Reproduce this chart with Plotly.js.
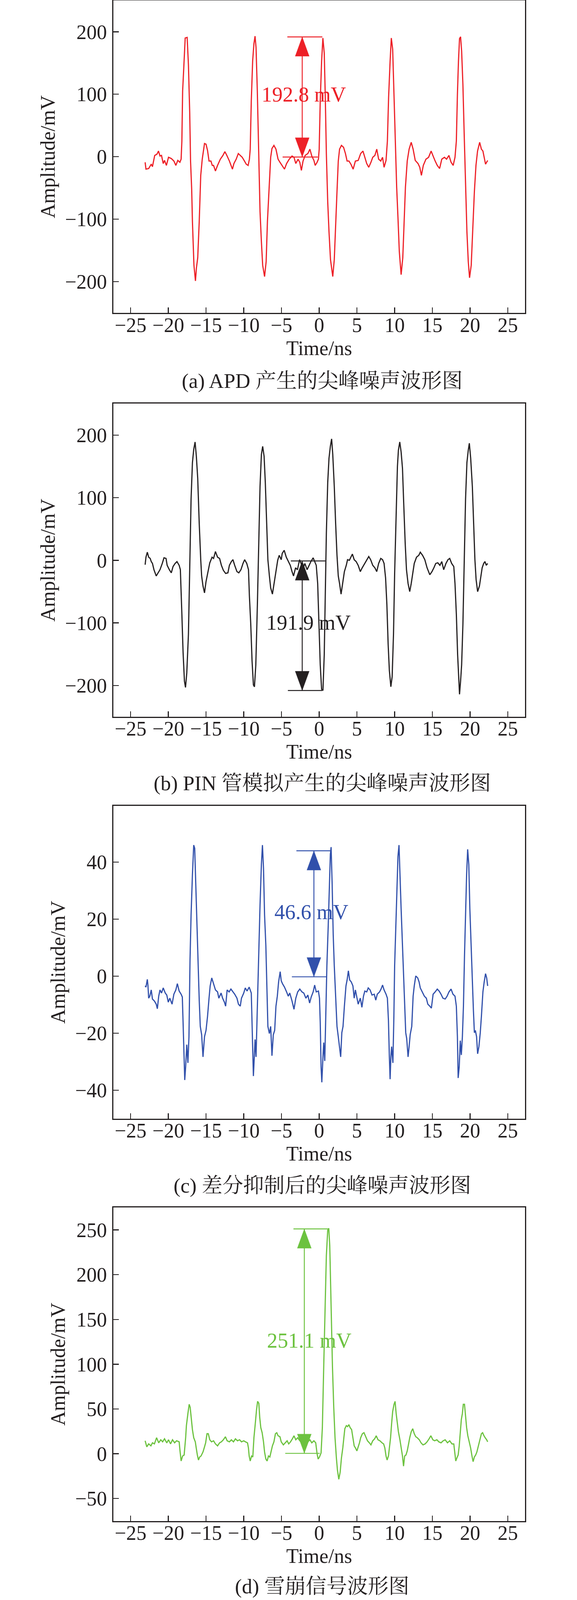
<!DOCTYPE html>
<html>
<head>
<meta charset="utf-8">
<script src="https://cdn.plot.ly/plotly-3.0.1.min.js"></script>
<style>
    html, body { margin: 0; padding: 0; background: #ffffff; overflow: hidden; }
</style>
</head>
<body>
<div id="chart"></div>
<script>
// (a) APD spike noise: time in ns, amplitude in mV
const apdTime = [
    -23.07,-22.96,-22.6,-22.26,-22.1,-21.8,-21.5,-21.3,-21.1,-20.9,-20.67,-20.5,-20.25,-19.97,-19.6,-19.26,-19.0,-18.74,-18.46,-18.3,
    -18.2,-18.1,-17.97,-17.76,-17.5,-17.33,-17.16,-17.05,-16.9,-16.8,-16.6,-16.4,-16.27,-16.1,-15.9,-15.7,-15.5,-15.2,-15.0,-14.8,
    -14.6,-14.35,-14.17,-14.0,-13.75,-13.47,-13.1,-12.76,-12.5,-12.24,-11.9,-11.5,-11.3,-11.0,-10.72,-10.48,-10.2,-9.95,-9.67,-9.42,-9.25,
    -9.14,-9.0,-8.82,-8.65,-8.5,-8.37,-8.2,-8.0,-7.84,-7.66,-7.49,-7.24,-7.03,-6.86,-6.6,-6.43,-6.26,-6.0,-5.73,-5.45,
    -5.2,-4.85,-4.6,-4.32,-3.97,-3.6,-3.34,-3.1,-2.8,-2.57,-2.36,-2.14,-1.86,-1.5,-1.23,-0.98,-0.7,-0.53,-0.28,-0.1,
    0,0.14,0.32,0.49,0.67,0.81,0.95,1.13,1.3,1.5,1.8,2.0,2.18,2.36,2.53,2.7,2.95,3.23,3.48,3.7,
    3.94,4.2,4.5,4.8,5.17,5.5,5.8,6.05,6.3,6.57,6.86,7.1,7.38,7.63,7.88,8.16,8.4,8.6,8.86,
    9.04,9.2,9.4,9.56,9.74,9.9,10.1,10.27,10.44,10.62,10.86,11.08,11.26,11.43,11.67,11.92,12.2,12.45,12.73,13.1,
    13.33,13.55,13.8,14.15,14.5,14.84,15.1,15.37,15.65,15.96,16.25,16.6,16.88,17.2,17.48,17.76,18.0,
    18.18,18.32,18.46,18.6,18.74,18.88,19.05,19.23,19.4,19.58,19.76,19.93,20.15,20.36,20.57,20.78,20.99,21.27,21.5,21.7,
    21.9,22.05,22.33
];
const apdAmp = [
    -9,-20,-19,-12,-16,2,4,9,1,2,-11,-6,-14,-1,-3,-7,-14,-6,-9,-4,
    25,105,137,190,191,147,70,-7,-52,-104,-174,-199,-178,-162,-104,-30,-4,21,20,10,
    -7,-7,-14,-14,-23,-14,-4,2,8,2,-7,-20,-11,-4,5,2,-1,-6,-12,-14,-4,
    12,89,153,181,193,175,105,-7,-88,-136,-174,-192,-168,-104,-40,-1,13,18,12,-4,
    -9,-15,-20,-11,-4,1,-1,-11,-4,-9,-22,-7,2,5,12,1,-6,-14,-9,-4,
    12,89,153,190,166,95,5,-72,-120,-165,-192,-165,-104,-56,-7,12,18,15,5,-7,
    -7,-12,-20,-7,-6,5,9,-1,-11,-17,-9,-1,2,12,-4,-7,-1,-17,-6,
    25,95,153,190,172,105,25,-49,-97,-152,-189,-162,-104,-49,-7,12,23,12,-6,-11,
    -17,-30,-14,-4,-1,9,1,-7,-14,-19,-4,-1,-4,2,-9,-14,-1,
    25,99,153,189,192,169,115,31,-49,-120,-168,-194,-174,-110,-56,-14,9,23,12,9,
    -4,-12,-6
];

// (b) PIN-simulated spike noise
const pinTime = [
    -23.07,-22.96,-22.78,-22.6,-22.4,-22.26,-22.1,-21.9,-21.6,-21.36,-21.1,-20.8,-20.57,-20.3,-20.15,-19.86,-19.6,-19.37,-19.1,-18.85,-18.56,-18.4,
    -18.3,-18.2,-18.04,-17.86,-17.72,-17.55,-17.33,-17.16,-16.98,-16.8,-16.63,-16.45,-16.28,-16.1,-15.9,-15.7,-15.58,-15.4,-15.2,-15.0,
    -14.8,-14.5,-14.2,-14.0,-13.75,-13.47,-13.2,-12.96,-12.7,-12.4,-12.1,-11.9,-11.64,-11.43,-11.2,-10.9,-10.65,-10.37,-10.1,-9.88,-9.6,-9.37,
    -9.25,-9.07,-8.9,-8.72,-8.58,-8.4,-8.19,-8.0,-7.84,-7.66,-7.49,-7.3,-7.14,-6.96,-6.8,-6.6,-6.43,-6.2,-5.98,-5.73,
    -5.5,-5.3,-5.03,-4.9,-4.64,-4.36,-4.08,-3.83,-3.6,-3.4,-3.13,-2.88,-2.6,-2.4,-2.2,-1.9,-1.6,-1.34,-1.1,-0.8,-0.6,-0.39,
    -0.2,-0.04,0.14,0.32,0.5,0.67,0.81,0.95,1.13,1.3,1.48,1.65,1.8,2.0,2.18,2.36,2.53,2.7,2.9,3.13,
    3.34,3.59,3.76,4.0,4.2,4.4,4.64,4.9,5.17,5.45,5.7,6.05,6.3,6.57,6.82,7.1,7.38,7.63,7.88,8.16,8.4,8.6,
    8.8,8.97,9.14,9.3,9.5,9.67,9.85,10.0,10.2,10.37,10.5,10.68,10.86,11.04,11.2,11.4,11.57,11.78,12.0,12.2,
    12.4,12.6,12.9,13.2,13.4,13.7,14.0,14.3,14.66,14.95,15.2,15.45,15.72,16.0,16.25,16.5,16.8,17.07,17.3,17.56,17.84,
    18.0,18.18,18.35,18.53,18.6,18.74,18.88,19.05,19.23,19.4,19.58,19.76,19.9,20.08,20.3,20.47,20.64,20.8,21.0,21.24,
    21.45,21.6,21.8,21.97,22.15,22.33
];
const pinAmp = [
    -7,5,13,5,3,-2,-5,-15,-25,-20,-15,-5,4,3,-8,-15,-20,-10,-5,-2,-8,-15,
    -57,-86,-147,-193,-203,-180,-118,-5,98,156,177,189,166,131,59,1,-25,-41,-52,-34,
    -21,-4,5,3,14,5,3,-8,-16,-21,-20,-8,-2,1,-8,-18,-20,-15,-5,1,-5,-15,
    -57,-102,-160,-199,-202,-167,-70,27,118,169,182,166,124,59,1,-25,-44,-54,-37,-15,
    0,8,1,11,16,5,-2,-8,-18,-25,-12,-15,1,-5,-15,-5,-15,-8,-2,4,-2,-8,
    -37,-102,-167,-206,-207,-151,-54,43,124,163,182,194,169,118,59,8,-25,-37,-54,-34,
    -18,-8,1,0,5,10,1,-2,-8,-18,-12,-5,0,6,1,-8,-12,-18,-5,3,1,-5,
    -28,-70,-134,-176,-202,-186,-118,-21,72,150,176,189,173,147,92,27,-15,-37,-50,-37,
    -21,-5,5,8,13,8,1,-12,-23,-18,-12,-5,-4,-8,-2,-15,-5,1,3,-5,-10,
    -37,-86,-151,-196,-214,-193,-167,-102,11,98,156,176,187,163,118,59,1,-31,-50,-41,
    -25,-12,-5,-2,-8,-5
];

// (c) spike noise after differential suppression
const diffTime = [
    -23.07,-22.96,-22.78,-22.7,-22.6,-22.45,-22.26,-22.1,-21.84,-21.6,-21.45,-21.27,-21.1,-20.9,-20.67,-20.4,-20.2,-20.0,-19.8,-19.5,
    -19.26,-19.0,-18.8,-18.56,-18.3,-18.14,
    -18.04,-17.93,-17.82,-17.7,-17.55,-17.4,-17.26,-17.12,-16.98,-16.8,-16.63,-16.5,-16.36,-16.2,-16.05,-15.9,-15.76,-15.58,-15.4,-15.2,
    -15.0,-14.8,-14.6,-14.45,-14.24,-14.0,-13.75,-13.47,-13.3,-13.0,-12.8,-12.56,-12.4,-12.2,-11.94,-11.7,-11.4,-11.2,-10.9,-10.7,
    -10.46,-10.3,-10.0,-9.8,-9.56,-9.28,-9.0,
    -8.93,-8.8,-8.72,-8.6,-8.5,-8.37,-8.19,-8.0,-7.84,-7.66,-7.52,-7.38,-7.24,-7.07,-6.93,-6.8,-6.6,-6.43,-6.26,-6.08,
    -5.9,-5.73,-5.55,-5.38,-5.17,-5.03,-4.85,-4.6,-4.32,-4.1,-3.9,-3.6,-3.34,-3.1,-2.85,-2.57,-2.28,-2.04,-1.76,-1.5,
    -1.27,-1.06,-0.8,-0.6,-0.39,-0.1,0.04,
    0.14,0.25,0.35,0.5,0.6,0.74,0.88,1.02,1.2,1.34,1.48,1.58,1.72,1.86,2.0,2.18,2.36,2.53,2.7,2.85,
    3.0,3.16,3.34,3.55,3.7,3.87,4.04,4.25,4.47,4.64,4.8,5.0,5.17,5.45,5.66,5.87,6.05,6.3,6.5,6.75,
    7.0,7.3,7.5,7.7,8.0,8.2,8.4,8.6,8.86,9.04,
    9.18,9.3,9.4,9.5,9.6,9.77,9.9,10.0,10.16,10.3,10.44,10.58,10.72,10.86,11.04,11.2,11.33,11.47,11.6,11.78,
    11.92,12.06,12.27,12.45,12.6,12.8,13.06,13.24,13.4,13.67,13.94,14.2,14.4,14.66,14.87,15.1,15.37,15.65,15.9,16.15,
    16.4,16.7,16.95,17.2,17.48,17.73,18.0,
    18.18,18.32,18.42,18.56,18.7,18.84,18.98,19.12,19.26,19.4,19.54,19.68,19.83,19.97,20.15,20.3,20.44,20.57,20.7,20.86,
    21.0,21.17,21.35,21.5,21.7,21.87,22.05,22.2,22.33
];
const diffAmp = [
    -3.4,-3.8,-1.1,-3.1,-7.7,-7,-4.8,-8,-8.7,-9.8,-11.4,-7,-4.8,-5.9,-4.1,-5.9,-6.6,-9.1,-7.7,-9.8,
    -6.3,-4.8,-2.6,-5.2,-6.3,-7.3,
    -16.2,-27.6,-36.4,-31.8,-24,-30.4,-21.2,5.8,21.5,35.7,46,44.9,32.1,17.9,3.7,-8.4,-17.6,-20.5,-28.3,-21.2,
    -19,-14.1,-7.7,-3.4,-0.6,-2.7,-4.8,-5.5,-7.7,-5.9,-7.7,-9.1,-10.5,-4.8,-5.5,-4.5,-5.5,-6.3,-7.7,-9.8,
    -10.5,-7.7,-5.9,-4.1,-5.2,-3.8,-5.9,
    -14.1,-28.3,-35,-28.3,-22.2,-28.3,-10.5,10.8,25,39.2,46,37.8,21.5,10.8,-3.4,-17.6,-20.1,-17.6,-27.9,-20.5,
    -19,-10.5,-7,-2,1.6,-1.6,-2.7,-3.8,-5.5,-7,-5.9,-8.7,-11.6,-7.7,-5.5,-4.5,-5.5,-5.9,-7.7,-6.6,
    -9.4,-7.3,-5.5,-3.1,-5.5,-5.2,-7.7,
    -16.2,-31.8,-37.2,-28.3,-23.3,-29.7,-10.5,3.7,17.9,32.1,42.8,45.3,32.1,14.4,3.7,-7,-17.6,-21.2,-24.7,-28.3,
    -19.8,-17.6,-10.5,-3.4,-1.3,1.9,-1.3,-2,-3.4,-7.7,-4.8,-7.7,-9.8,-7.7,-10.9,-7,-5.2,-5.5,-4.1,-4.8,
    -6.6,-6.3,-8.4,-6.3,-5.5,-4.5,-3.1,-4.8,-6.3,-7.7,
    -15.5,-28.3,-36.1,-28.3,-24.7,-30.4,-14.1,3.7,17.9,32.1,42,46,33.5,23.6,10.8,0.1,-10.5,-19.8,-21.9,-28.3,
    -24.7,-20.5,-17.6,-7,-3.4,0.1,-0.6,-2,-4.1,-5.5,-7,-7.7,-9.8,-10.5,-11.2,-6.3,-5.5,-4.5,-5.2,-6.3,
    -7.7,-8,-7,-5.5,-4.5,-6.3,-7,
    -10.5,-21.2,-35.7,-31.8,-22.6,-27.6,-21.2,-10.5,7.2,21.5,35.7,44.5,39.2,23.6,9.4,0.1,-11.9,-19.8,-19,-21.2,
    -27.2,-24.7,-19.8,-14.1,-5.5,-2,0.9,-0.6,-3.4
];

// (d) avalanche signal
const avalTime = [
    -23.07,-22.85,-22.6,-22.3,-22.1,-21.84,-21.55,-21.27,-21.0,-20.75,-20.5,-20.2,-19.97,-19.7,-19.44,-19.16,-18.9,-18.56,
    -18.46,-18.3,-18.1,-17.9,-17.7,-17.6,-17.4,-17.23,-17.1,-16.95,-16.8,-16.63,-16.42,-16.3,-16.15,-16.0,-15.84,-15.66,-15.4,-15.2,
    -15.05,-14.87,-14.7,-14.5,-14.27,-14.0,-13.75,-13.47,-13.2,-12.96,-12.7,-12.43,-12.2,-11.9,-11.64,-11.36,-11.1,-10.83,-10.55,-10.3,
    -10.0,-9.77,-9.5,
    -9.38,-9.28,-9.14,-8.96,-8.8,-8.65,-8.47,-8.3,-8.16,-8.0,-7.88,-7.74,-7.56,-7.38,-7.24,-7.07,-6.9,-6.72,-6.54,-6.36,
    -6.2,-6.0,-5.8,-5.62,-5.45,-5.2,-5.03,-4.75,-4.5,-4.25,-4.04,-3.8,-3.55,-3.34,-3.1,-2.85,-2.57,-2.28,-2.04,-1.8,
    -1.5,-1.23,-0.98,-0.7,-0.46,
    -0.28,-0.14,0.04,0.25,0.42,0.6,0.77,0.95,1.13,1.27,1.4,1.58,1.76,1.93,2.1,2.28,2.42,2.6,2.78,2.95,
    3.13,3.27,3.4,3.6,3.76,3.94,4.1,4.3,4.47,4.64,4.8,5.0,5.17,5.34,5.5,5.73,5.94,6.15,6.4,6.65,
    6.86,7.1,7.35,7.56,7.8,8.05,8.33,8.54,
    8.7,8.86,9.0,9.18,9.32,9.46,9.6,9.74,9.92,10.06,10.2,10.34,10.5,10.7,10.86,11.04,11.18,11.33,11.5,11.67,
    11.85,12.0,12.2,12.4,12.6,12.8,13.0,13.27,13.5,13.76,14.04,14.3,14.57,14.8,15.07,15.3,15.6,15.86,16.15,16.43,
    16.7,17.0,17.3,17.6,17.84,
    17.95,18.1,18.25,18.42,18.56,18.7,18.84,18.98,19.1,19.26,19.4,19.54,19.7,19.9,20.07,20.25,20.4,20.57,20.74,20.9,
    21.1,21.27,21.5,21.66,21.84,22.0,22.2,22.33
];
const avalAmp = [
    14.5,7.7,11,8.8,12.2,11,17.9,12.2,15.6,13.3,16.7,12.2,15.6,11,15.6,12.2,14.5,13.3,
    4.3,-8.1,-2.5,-1.4,17.9,31.4,45,55.2,51.8,38.2,26.9,17.9,13.3,6.6,-1.4,-7,-3.6,-2.5,2,7.7,
    12.2,22.4,22.4,15.6,13.3,14.5,11,8.8,12.2,13.3,15.6,19,14.5,13.3,15.6,13.3,16.7,14.5,15.6,13.3,
    14.5,13.3,12.2,
    6.6,-2.5,-8.1,-2.5,-3.6,17.9,33.7,49.5,58.5,56.3,40.5,29.2,23.5,13.3,2,-5.9,-8.1,-2.5,-3.6,3.2,
    8.8,13.3,22.4,23.5,20.1,19,13.3,9.9,12.2,14.5,11,13.3,16.7,20.1,15.6,17.9,14.5,12.2,15.6,17.9,
    13.3,15.6,12.2,14.5,12.2,
    0,-5.9,-3.6,0.9,29.2,97,164.8,221.3,249.5,251.8,232.6,164.8,97,51.8,17.9,-4.7,-18.3,-28.5,-20.6,-4.7,
    6.6,17.9,28,31.4,30.3,32.5,29.2,26.9,17.9,8.8,6.6,3.2,7.7,12.2,17.9,22.4,23.5,19,14.5,12.2,
    9.9,14.5,16.7,20.1,15.6,14.5,12.2,11,
    6.6,-2.5,-7,-2.5,6.6,17.9,33.7,47.2,55.2,58.5,45,35.9,24.6,15.6,6.6,-2.5,-13.8,-2.5,-1.4,3.2,
    11,17.9,24.6,28,22.4,19,17.9,15.6,12.2,9.9,11,13.3,16.7,20.1,15.6,14.5,15.6,13.3,12.2,14.5,
    15.6,12.2,14.5,11,11,
    2,-8.1,-4.7,-1.4,8.8,24.6,38.2,45,55.2,55.2,42.7,29.2,20.1,13.3,6.6,-2.5,-8.8,-3.6,-1.4,2,
    8.8,15.6,22.4,23.5,20.1,17.9,15.6,13.3
];

// the peak-to-peak measurement drawn in each panel
const markLabels = ['192.8 mV', '191.9 mV', '46.6 mV', '251.1 mV'];
const markX = [-2.25, -2.25, -0.7, -1.97];
const markLow = [-0.6, -208, -0.2, 0.45];
const markHigh = [191.8, -1, 44.0, 251.1];
const lowLineX = [[-4.85, -0.18], [-4.15, 0.46], [-3.62, 0.95], [-4.5, 0.07]];
const highLineX = [[-4.22, 0.42], [-3.76, 0.81], [-3.02, 1.58], [-3.41, 1.3]];
const labelX = [-2.04, -1.4, -1.05, -1.3];
const labelY = [99.3, -99.8, 22.5, 126.4];

const captions = [
    '(a) APD 产生的尖峰噪声波形图',
    '(b) PIN 管模拟产生的尖峰噪声波形图',
    '(c) 差分抑制后的尖峰噪声波形图',
    '(d) 雪崩信号波形图'
];
const xTickStep = 5;
const yTickSteps = [100, 100, 20, 50];
const yRanges = [[-250.4, 250], [-250, 250.3], [-50, 59.8], [-75, 275]];

document.addEventListener('DOMContentLoaded', function () {
    buildChart();
});

function buildChart() {
    // the window can not be taller than 4096 px, so squeeze the 4309 px layout to fit
    const W = 1476;
    const H = Math.min(4309, window.innerHeight || 4309);
    const sy = H / 4309;
    document.getElementById('chart').style.height = H + 'px';

    const ink = '#231F20';
    const serif = 'Liberation Serif, "Noto Serif CJK SC", "Noto Sans CJK SC", serif';
    const colors = ['#ED2027', '#231F20', '#3150AB', '#6CC23F'];
    const times = [apdTime, pinTime, diffTime, avalTime];
    const amps = [apdAmp, pinAmp, diffAmp, avalAmp];

    // plot boxes in reference pixels: [top, bottom]
    const boxes = [[1.5, 843], [1087, 1930.5], [2170, 3013], [3252, 4096]];
    const xDomain = [290 / W, 1343 / W];
    const xRange = [-27.28, 27.28];
    const captionY = [1026, 2110, 3193, 4273];

    const traces = [];
    const annotations = [];
    const layout = {
        width: W,
        height: H,
        margin: {l: 0, r: 0, t: 0, b: 0},
        paper_bgcolor: '#ffffff',
        plot_bgcolor: '#ffffff',
        showlegend: false,
        font: {family: serif, size: 52, color: ink},
    };

    const xPerPx = (xRange[1] - xRange[0]) / (xDomain[1] - xDomain[0]) / W;

    for (let i = 0; i < 4; i++) {
        const sfx = i === 0 ? '' : String(i + 1);
        const xa = 'x' + sfx, ya = 'y' + sfx;
        const top = boxes[i][0] * sy, bottom = boxes[i][1] * sy;
        const yPerPx = (yRanges[i][1] - yRanges[i][0]) / (bottom - top);

        // waveform
        traces.push({
            x: times[i], y: amps[i],
            xaxis: xa, yaxis: ya,
            type: 'scatter', mode: 'lines',
            line: {color: colors[i], width: 3},
            hoverinfo: 'skip',
        });

        // dimension lines
        traces.push({
            x: [markX[i], markX[i], null, lowLineX[i][0], lowLineX[i][1], null, highLineX[i][0], highLineX[i][1]],
            y: [markLow[i], markHigh[i], null, markLow[i], markLow[i], null, markHigh[i], markHigh[i]],
            xaxis: xa, yaxis: ya,
            type: 'scatter', mode: 'lines',
            line: {color: colors[i], width: 2.4},
            hoverinfo: 'skip',
        });

        // arrow heads (about 52 px long, 36 px wide)
        const hw = 18 * xPerPx;
        const hl = 52 * sy * yPerPx;
        traces.push({
            x: [markX[i] - hw, markX[i], markX[i] + hw, markX[i] - hw],
            y: [markHigh[i] - hl, markHigh[i], markHigh[i] - hl, markHigh[i] - hl],
            xaxis: xa, yaxis: ya,
            type: 'scatter', mode: 'lines', fill: 'toself',
            fillcolor: colors[i], line: {color: colors[i], width: 0.5},
            hoverinfo: 'skip',
        });
        traces.push({
            x: [markX[i] - hw, markX[i], markX[i] + hw, markX[i] - hw],
            y: [markLow[i] + hl, markLow[i], markLow[i] + hl, markLow[i] + hl],
            xaxis: xa, yaxis: ya,
            type: 'scatter', mode: 'lines', fill: 'toself',
            fillcolor: colors[i], line: {color: colors[i], width: 0.5},
            hoverinfo: 'skip',
        });

        annotations.push({
            xref: xa, yref: ya, x: labelX[i], y: labelY[i],
            text: markLabels[i], showarrow: false,
            font: {family: serif, size: 54, color: colors[i]},
        });
        annotations.push({
            xref: 'paper', yref: 'paper', x: 824 / W, y: 1 - captionY[i] * sy / H,
            xanchor: 'center', yanchor: 'middle',
            text: captions[i], showarrow: false,
            font: {family: serif, size: 53, color: ink},
        });

        const axisCommon = {
            showline: true, mirror: true, linecolor: ink, linewidth: 3,
            ticks: 'inside', ticklen: 14, tickwidth: 2.5, tickcolor: ink,
            showgrid: false, zeroline: false,
            tickfont: {family: serif, size: 52, color: ink},
        };
        layout['xaxis' + sfx] = Object.assign({}, axisCommon, {
            domain: xDomain, range: xRange, anchor: ya,
            tick0: 0, dtick: xTickStep,
            ticklabelstandoff: -17,
            title: {text: 'Time/ns', font: {family: serif, size: 52, color: ink}, standoff: 13},
        });
        layout['yaxis' + sfx] = Object.assign({}, axisCommon, {
            domain: [1 - bottom / H, 1 - top / H],
            range: yRanges[i], anchor: xa,
            tick0: 0, dtick: yTickSteps[i],
            ticklabelstandoff: 3,
            title: {text: 'Amplitude/mV', font: {family: serif, size: 52, color: ink}, standoff: 10},
        });
    }

    layout.annotations = annotations;
    const config = {displayModeBar: false, staticPlot: true};
    Plotly.newPlot('chart', traces, layout, config);
}
</script>
</body>
</html>
